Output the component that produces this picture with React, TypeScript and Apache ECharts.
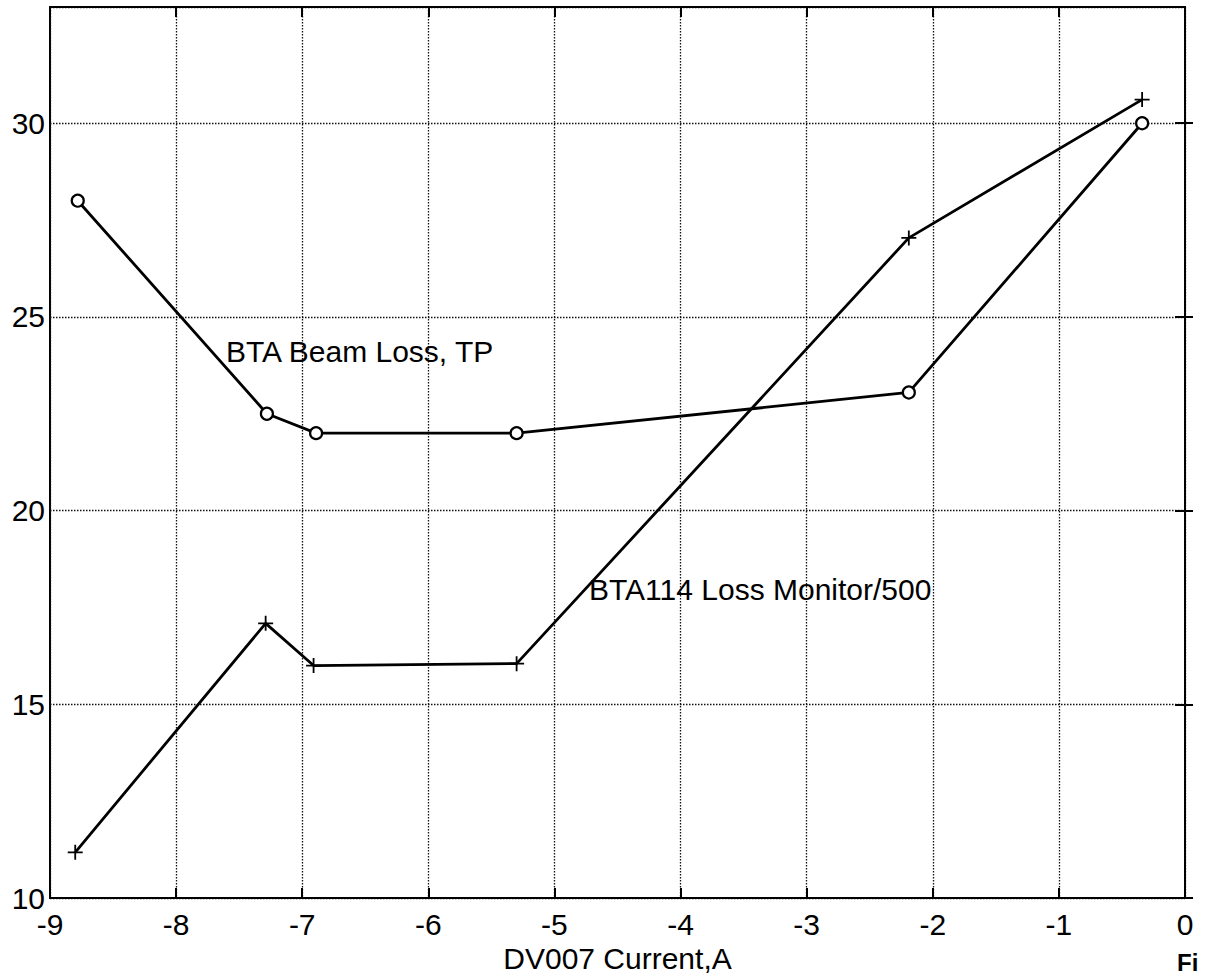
import React, { useEffect, useRef } from "react";
import * as echarts from "echarts";

const xTicks = [-9, -8, -7, -6, -5, -4, -3, -2, -1, 0];
const yTicks = [10, 15, 20, 25, 30];
const currentTP = [-8.78, -7.28, -6.89, -5.3, -2.19, -0.34];
const beamLossTP = [28.0, 22.5, 22.0, 22.0, 23.05, 30.0];
const currentMon = [-8.8, -7.29, -6.91, -5.3, -2.19, -0.34];
const lossMonitor500 = [11.18, 17.09, 16.0, 16.05, 27.04, 30.61];
const seriesNames = ["BTA Beam Loss, TP", "BTA114 Loss Monitor/500"];
const xName = "DV007 Current,A";
const figText = "Fi";

const FONT = "'Liberation Sans', Arial, Helvetica, sans-serif";
const PLUS = "path://M6.6,0h1.8v6.6h6.6v1.8h-6.6v6.6h-1.8v-6.6h-6.6v-1.8h6.6z";

export default function App() {
  const ref = useRef<HTMLDivElement>(null);
  useEffect(() => {
    if (!ref.current) return;
    const chart = echarts.init(ref.current, null, { renderer: "svg" });
    const xMin = xTicks[0];
    const xMax = xTicks[xTicks.length - 1];
    const yMin = yTicks[0];
    const yMax = 33;
    const tickLabel = { fontFamily: FONT, fontSize: 30, color: "#000" };
    chart.setOption({
      animation: false,
      backgroundColor: "#fff",
      grid: {
        left: 50,
        right: 20,
        top: 7,
        bottom: 81,
        show: true,
        borderColor: "#000",
        borderWidth: 2,
      },
      xAxis: [
        {
          type: "value",
          min: xMin,
          max: xMax,
          interval: 1,
          name: xName,
          nameLocation: "middle",
          nameGap: 43,
          nameTextStyle: { fontFamily: FONT, fontSize: 30, color: "#000" },
          axisLine: { show: true, lineStyle: { color: "#000", width: 2 } },
          axisTick: { show: true, inside: true, length: 10, lineStyle: { color: "#000", width: 2 } },
          axisLabel: { ...tickLabel, margin: 11 },
          splitLine: { show: true, lineStyle: { color: "#111", width: 1.3, type: [1.5, 1.5] } },
        },
        {
          type: "value",
          position: "top",
          min: xMin,
          max: xMax,
          interval: 1,
          axisLine: { show: true, lineStyle: { color: "#000", width: 2 } },
          axisTick: { show: true, inside: true, length: 10, lineStyle: { color: "#000", width: 2 } },
          axisLabel: { show: false },
          splitLine: { show: false },
        },
      ],
      yAxis: [
        {
          type: "value",
          min: yMin,
          max: yMax,
          interval: 5,
          axisLine: { show: true, lineStyle: { color: "#000", width: 2 } },
          axisTick: { show: true, inside: true, length: 8, lineStyle: { color: "#000", width: 2 } },
          axisLabel: {
            ...tickLabel,
            margin: 5,
            showMaxLabel: false,
            formatter: (v: number) => (yTicks.includes(v) ? String(v) : ""),
          },
          splitLine: { show: true, lineStyle: { color: "#111", width: 1.3, type: [1.5, 1.5] } },
        },
        {
          type: "value",
          position: "right",
          min: yMin,
          max: yMax,
          interval: 5,
          axisLine: { show: true, lineStyle: { color: "#000", width: 2 } },
          axisTick: { show: true, inside: true, length: 10, lineStyle: { color: "#000", width: 2 } },
          axisLabel: { show: false },
          splitLine: { show: false },
        },
      ],
      series: [
        {
          name: seriesNames[0],
          type: "line",
          xAxisIndex: 0,
          yAxisIndex: 0,
          data: currentTP.map((x, i) => [x, beamLossTP[i]]),
          symbol: "circle",
          symbolSize: 12,
          lineStyle: { color: "#000", width: 2.8 },
          itemStyle: { color: "#fff", borderColor: "#000", borderWidth: 2.2 },
          z: 3,
        },
        {
          name: seriesNames[1],
          type: "line",
          xAxisIndex: 0,
          yAxisIndex: 0,
          data: currentMon.map((x, i) => [x, lossMonitor500[i]]),
          symbol: PLUS,
          symbolSize: 15,
          lineStyle: { color: "#000", width: 2.8 },
          itemStyle: { color: "#000", borderWidth: 0 },
          z: 3,
        },
      ],
      graphic: [
        {
          type: "text",
          left: 226,
          top: 336,
          style: { text: seriesNames[0], fontFamily: FONT, fontSize: 30, fill: "#000" },
          z: 10,
        },
        {
          type: "text",
          left: 589,
          top: 574,
          style: { text: seriesNames[1], fontFamily: FONT, fontSize: 30, fill: "#000" },
          z: 10,
        },
        {
          type: "text",
          left: 1177,
          top: 950,
          style: { text: figText, fontFamily: FONT, fontSize: 24, fontWeight: "bold", fill: "#000" },
          z: 10,
        },
      ],
    });
    return () => chart.dispose();
  }, []);
  return (
    <div
      ref={ref}
      style={{ position: "fixed", left: 0, top: 0, width: 1205, height: 979, background: "#fff" }}
    />
  );
}
